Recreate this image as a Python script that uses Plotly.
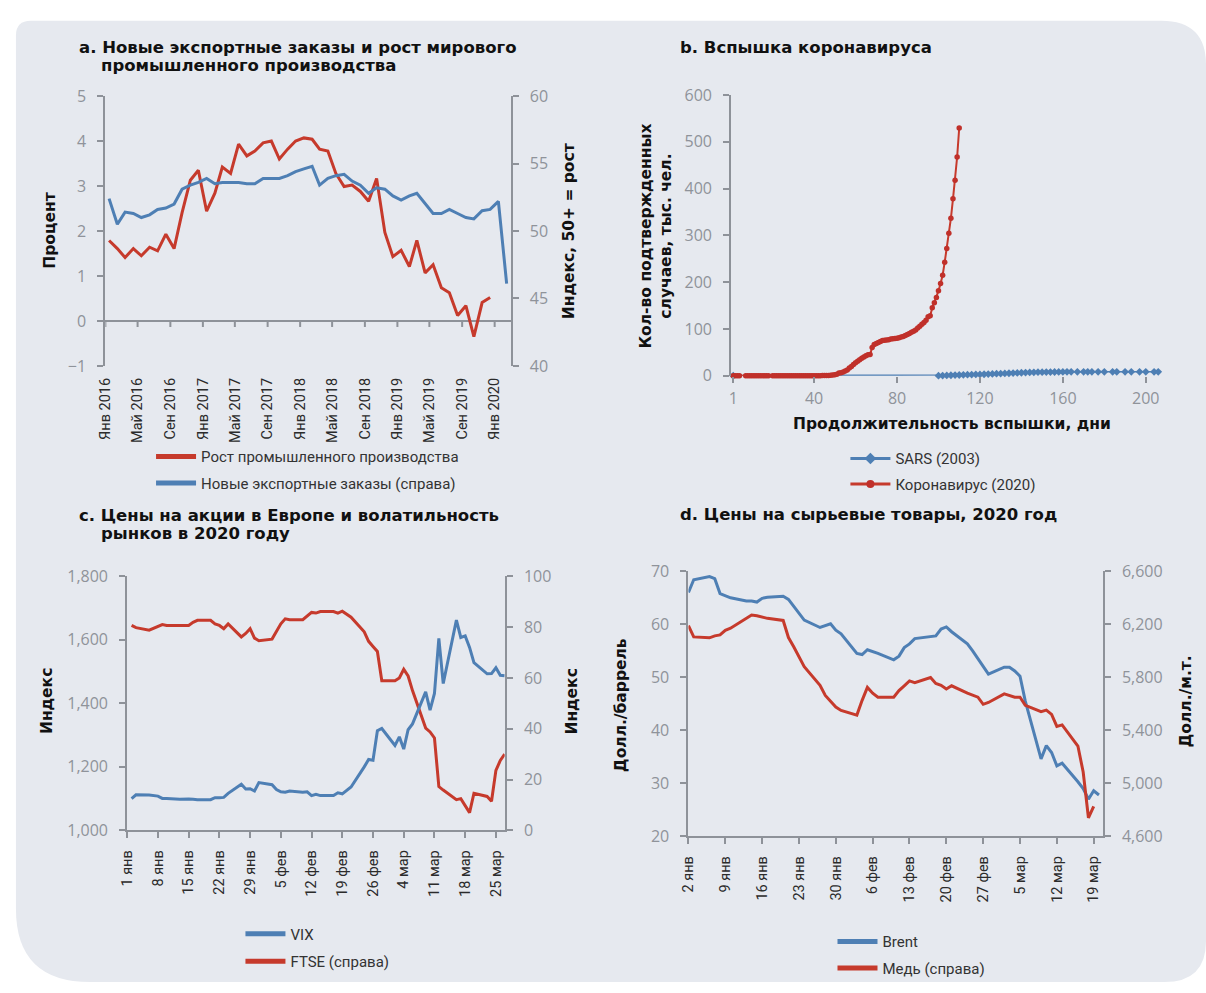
import plotly.graph_objects as go

W, H = 1206, 993


def X(px):
    return px / W


def Y(py):
    return 1 - py / H


RED = "#c63a2c"
BLUE = "#4e7fb4"
AXIS = "#8e9299"
TICK_GRAY = "#8f939a"
DARK = "#2b2b2b"
BG = "#e6e9ef"
TITLE_FONT = "DejaVu Sans"
BODY_FONT = "Roboto"
TICK_FONT = "Open Sans"

# ---------------- a. export orders vs industrial production ----------------
ip_growth = [1.79, 1.61, 1.41, 1.61, 1.45, 1.64, 1.56, 1.93, 1.61, 2.41, 3.13, 3.35,
             2.44, 2.84, 3.42, 3.28, 3.93, 3.67, 3.78, 3.96, 4.00, 3.60, 3.82, 4.00,
             4.07, 4.04, 3.82, 3.78, 3.28, 2.99, 3.02, 2.88, 2.66, 3.17, 1.97, 1.43,
             1.57, 1.21, 1.79, 1.07, 1.25, 0.74, 0.63, 0.12, 0.34, -0.35, 0.41, 0.52]
export_orders = [52.4, 50.5, 51.4, 51.3, 51.0, 51.2, 51.6, 51.7, 52.0, 53.1,
                 53.4, 53.6, 53.9, 53.5, 53.6, 53.6, 53.6, 53.5, 53.5, 53.9,
                 53.9, 53.9, 54.1, 54.4, 54.6, 54.8, 53.4, 53.9, 54.1, 54.2,
                 53.7, 53.4, 52.8, 53.2, 53.1, 52.6, 52.3, 52.6, 52.8, 52.0,
                 51.3, 51.3, 51.6, 51.3, 51.0, 50.9, 51.5, 51.6, 52.2, 46.1]
ip_dates = [f"{2016 + i // 12}-{i % 12 + 1:02d}-15" for i in range(len(ip_growth))]
orders_dates = [f"{2016 + i // 12}-{i % 12 + 1:02d}-15" for i in range(len(export_orders))]
a_tickvals = ["2016-01-01", "2016-05-01", "2016-09-01", "2017-01-01", "2017-05-01",
              "2017-09-01", "2018-01-01", "2018-05-01", "2018-09-01", "2019-01-01",
              "2019-05-01", "2019-09-01", "2020-01-01"]
a_ticktext = ["Янв 2016", "Май 2016", "Сен 2016", "Янв 2017", "Май 2017", "Сен 2017",
              "Янв 2018", "Май 2018", "Сен 2018", "Янв 2019", "Май 2019", "Сен 2019",
              "Янв 2020"]

# ---------------- b. outbreak comparison (thousands of cases) ----------------
sars_days = [1, 100, 102, 104, 106, 108, 110, 112, 114, 116, 118, 120, 122, 124, 126,
             128, 130, 132, 134, 136, 138, 140, 142, 144, 146, 148, 150, 152, 154, 156,
             158, 160, 162, 164, 167, 170, 172, 174, 177, 180, 184, 186, 190, 193, 197,
             200, 204, 206]
sars_cases = [0.0, 0.17, 0.35, 0.6, 1.0, 1.3, 1.6, 1.9, 2.2, 2.4, 2.7, 2.9, 3.2, 3.5, 3.9,
              4.3, 4.6, 4.9, 5.3, 5.7, 6.0, 6.4, 6.7, 7.0, 7.3, 7.5, 7.7, 7.8, 7.9, 8.0,
              8.1, 8.2, 8.3, 8.4, 8.4, 8.4, 8.4, 8.4, 8.4, 8.4, 8.4, 8.4, 8.4, 8.4, 8.4,
              8.4, 8.4, 8.4]
covid_days = list(range(1, 5)) + list(range(7, 19)) + list(range(20, 111))
covid_cases = [0.0, 0.0, 0.0, 0.0,
               0.01, 0.01, 0.01, 0.02, 0.02, 0.02, 0.02, 0.03, 0.03, 0.03, 0.03, 0.03,
               0.03, 0.03, 0.03, 0.03, 0.03, 0.04, 0.04, 0.04, 0.04, 0.04, 0.04, 0.04,
               0.04, 0.04, 0.04, 0.04, 0.04, 0.04, 0.04, 0.04, 0.04, 0.06, 0.12, 0.20,
               0.29, 0.44,
               0.56, 0.65, 0.94, 1.43, 2.12, 2.93, 5.58, 6.17, 8.24, 9.93,
               12.04, 16.79, 19.88, 23.89, 27.64, 30.8, 34.39, 37.12, 40.15, 42.76,
               44.8, 45.2, 60.37, 66.89, 69.03, 71.22, 73.26, 75.14, 75.64, 76.2,
               76.82, 78.57, 78.97, 79.55, 80.4, 81.38, 82.74, 84.12, 86.01, 88.37,
               90.31, 92.84, 95.12, 97.89, 101.8, 105.8, 109.8, 113.6, 118.6, 125.9,
               128.3, 145.2, 156.1, 167.4, 181.5, 197.1, 214.9, 242.7, 272.2, 304.5,
               336.9, 378.2, 418.0, 467.7, 529.6]
b_tickvals = [1, 40, 80, 120, 160, 200]

# ---------------- c. European equities and volatility, 2020 ----------------
c_dates = ["2020-01-02", "2020-01-03", "2020-01-06", "2020-01-07", "2020-01-08",
           "2020-01-09", "2020-01-10", "2020-01-13", "2020-01-14", "2020-01-15",
           "2020-01-16", "2020-01-17", "2020-01-20", "2020-01-21", "2020-01-22",
           "2020-01-23", "2020-01-24", "2020-01-27", "2020-01-28", "2020-01-29",
           "2020-01-30", "2020-01-31", "2020-02-03", "2020-02-04", "2020-02-05",
           "2020-02-06", "2020-02-07", "2020-02-10", "2020-02-11", "2020-02-12",
           "2020-02-13", "2020-02-14", "2020-02-17", "2020-02-18", "2020-02-19",
           "2020-02-20", "2020-02-21", "2020-02-24", "2020-02-25", "2020-02-26",
           "2020-02-27", "2020-02-28", "2020-03-02", "2020-03-03", "2020-03-04",
           "2020-03-05", "2020-03-06", "2020-03-09", "2020-03-10", "2020-03-11",
           "2020-03-12", "2020-03-13", "2020-03-16", "2020-03-17", "2020-03-18",
           "2020-03-19", "2020-03-20", "2020-03-23", "2020-03-24", "2020-03-25",
           "2020-03-26", "2020-03-27"]
vix = [12.5, 14.0, 13.9, 13.8, 13.5, 12.6, 12.6, 12.3, 12.4, 12.4, 12.3, 12.1, 12.1,
       12.9, 12.9, 13.0, 14.6, 18.2, 16.3, 16.4, 15.5, 18.8,
       18.0, 16.1, 15.2, 15.0, 15.5, 15.0, 15.2, 13.7, 14.2, 13.7, 13.7, 14.8, 14.4,
       15.6, 17.1, 25.0, 27.9, 27.6, 39.2, 40.1,
       33.4, 36.8, 32.0, 39.6, 41.9, 54.5, 47.3, 53.9, 75.5, 57.8, 82.7, 75.9, 76.5,
       72.0, 66.0, 61.6, 61.7, 64.0, 61.0, 60.8]
ftse = [1645, 1638, 1630, 1636, 1640, 1648, 1645, 1645, 1643, 1645, 1655, 1661, 1661,
        1650, 1645, 1635, 1650, 1609, 1620, 1635, 1605, 1597,
        1602, 1625, 1650, 1666, 1663, 1663, 1675, 1686, 1684, 1689, 1689, 1684, 1690,
        1680, 1671, 1625, 1595, 1579, 1563, 1471,
        1471, 1480, 1507, 1486, 1440, 1322, 1310, 1291, 1138, 1127, 1097, 1100, 1076,
        1056, 1117, 1107, 1092, 1189, 1220, 1240]
c_tickvals = ["2020-01-01", "2020-01-08", "2020-01-15", "2020-01-22", "2020-01-29",
              "2020-02-05", "2020-02-12", "2020-02-19", "2020-02-26", "2020-03-04",
              "2020-03-11", "2020-03-18", "2020-03-25"]
c_ticktext = ["1 янв", "8 янв", "15 янв", "22 янв", "29 янв", "5 фев", "12 фев",
              "19 фев", "26 фев", "4 мар", "11 мар", "18 мар", "25 мар"]

# ---------------- d. commodity prices, 2020 ----------------
brent_dates = c_dates[:57]
brent = [66.0, 68.4, 69.0, 68.6, 65.8, 65.4, 65.0, 64.4, 64.4, 64.2, 64.9, 65.1, 65.3,
         64.7, 63.4, 62.3, 60.8, 59.4, 59.8, 60.1, 58.9, 58.2,
         54.5, 54.3, 55.2, 54.9, 54.5, 53.3, 54.0, 55.6, 56.3, 57.3, 57.6, 57.8, 59.1,
         59.5, 58.6, 56.3, 55.0, 53.6, 52.2, 50.6,
         51.9, 51.9, 51.2, 50.2, 45.5, 34.6, 37.1, 35.8, 33.3, 33.8, 30.3, 29.0, 27.0,
         28.6, 27.8]
copper_dates = c_dates[:56]
copper = [6190, 6105, 6098, 6113, 6120, 6155, 6170, 6250, 6270, 6265, 6255, 6245, 6229,
          6100, 6030, 5958, 5880, 5740, 5663, 5620, 5576, 5550,
          5515, 5626, 5724, 5680, 5650, 5650, 5700, 5736, 5773, 5760, 5798, 5754, 5740,
          5712, 5736, 5680, 5665, 5650, 5596, 5610,
          5675, 5660, 5650, 5650, 5589, 5540, 5552, 5520, 5429, 5441, 5281, 5085, 4740,
          4826]
d_tickvals = ["2020-01-02", "2020-01-09", "2020-01-16", "2020-01-23", "2020-01-30",
              "2020-02-06", "2020-02-13", "2020-02-20", "2020-02-27", "2020-03-05",
              "2020-03-12", "2020-03-19"]
d_ticktext = ["2 янв", "9 янв", "16 янв", "23 янв", "30 янв", "6 фев", "13 фев",
              "20 фев", "27 фев", "5 мар", "12 мар", "19 мар"]

fig = go.Figure()

line_w = 3


def series(x, y, xa, ya, color, **kw):
    fig.add_trace(go.Scatter(x=x, y=y, mode=kw.pop("mode", "lines"), xaxis=xa, yaxis=ya,
                             line=dict(color=color, width=kw.pop("width", line_w)),
                             showlegend=False, hoverinfo="x+y", **kw))


def legend_entry(name, color, xa, ya, legend, group, marker=None):
    fig.add_trace(go.Scatter(x=[None], y=[None], name=name, xaxis=xa, yaxis=ya,
                             mode="lines+markers" if marker else "lines",
                             line=dict(color=color, width=5 if not marker else 3),
                             marker=marker, legend=legend, legendgroup=group))


# panel a
series(ip_dates, ip_growth, "x", "y", RED)
series(orders_dates, export_orders, "x", "y2", BLUE)
legend_entry("Рост промышленного производства", RED, "x", "y", "legend", "a1")
legend_entry("Новые экспортные заказы (справа)", BLUE, "x", "y", "legend", "a2")

# panel b
series(sars_days, sars_cases, "x2", "y3", BLUE, mode="lines+markers", width=1.6,
       marker=dict(symbol="diamond", size=6, color=BLUE), cliponaxis=False)
series(covid_days, covid_cases, "x2", "y3", RED, mode="lines+markers", width=2,
       marker=dict(symbol="circle", size=5.5, color="#c0302a"), cliponaxis=False)
legend_entry("SARS (2003)", BLUE, "x2", "y3", "legend2", "b1",
             marker=dict(symbol="diamond", size=9, color=BLUE))
legend_entry("Коронавирус (2020)", RED, "x2", "y3", "legend2", "b2",
             marker=dict(symbol="circle", size=8, color="#c0302a"))

# panel c
series(c_dates, ftse, "x3", "y4", RED)
series(c_dates, vix, "x3", "y5", BLUE)
legend_entry("VIX", BLUE, "x3", "y4", "legend3", "c1")
legend_entry("FTSE (справа)", RED, "x3", "y4", "legend3", "c2")

# panel d
series(brent_dates, brent, "x4", "y6", BLUE)
series(copper_dates, copper, "x4", "y7", RED)
legend_entry("Brent", BLUE, "x4", "y6", "legend4", "d1")
legend_entry("Медь (справа)", RED, "x4", "y6", "legend4", "d2")

gray_ticks = dict(family=TICK_FONT, size=16, color=TICK_GRAY)
dark_ticks = dict(family=BODY_FONT, size=14.5, color=DARK)


def yax(domain, rng, dtick, anchor, side="left", overlaying=None, fmt=None, zero=False):
    d = dict(domain=domain, range=rng, dtick=dtick, tick0=rng[0], anchor=anchor, side=side,
             showline=True, linecolor=AXIS, linewidth=2, ticks="outside", ticklen=6,
             tickwidth=2, tickcolor=AXIS, showgrid=False, zeroline=zero,
             zerolinecolor=AXIS, zerolinewidth=2, tickfont=gray_ticks,
             ticklabelstandoff=8, fixedrange=True)
    if overlaying:
        d["overlaying"] = overlaying
    if fmt:
        d["tickformat"] = fmt
    return d


layout = dict(
    width=W, height=H, margin=dict(l=0, r=0, t=0, b=0),
    paper_bgcolor="white", plot_bgcolor="rgba(0,0,0,0)",
    font=dict(family=BODY_FONT, color=DARK),
    xaxis=dict(domain=[X(98), X(506)], range=["2016-01-01", "2020-03-01"], anchor="y",
               tickmode="array", tickvals=a_tickvals, ticktext=a_ticktext, tickangle=-90,
               ticks="", showline=False, showgrid=False, zeroline=False,
               tickfont=dark_ticks, ticklabelstandoff=8),
    yaxis=yax([Y(363), Y(87)], [-1, 5], 1, "x", zero=True),
    yaxis2=yax([Y(363), Y(87)], [40, 60], 5, "x", side="right", overlaying="y"),
    xaxis2=dict(domain=[X(728), X(1160)], range=[0, 207], anchor="y3",
                tickmode="array", tickvals=b_tickvals, ticks="outside", ticklen=6,
                tickwidth=2, tickcolor=AXIS, showline=False, showgrid=False,
                zeroline=False, tickfont=gray_ticks, ticklabelstandoff=2),
    yaxis3=yax([Y(373), Y(86)], [0, 600], 100, "x2"),
    xaxis3=dict(domain=[X(120), X(500)], range=["2020-01-01", "2020-03-27"], anchor="y4",
                tickmode="array", tickvals=c_tickvals, ticktext=c_ticktext, tickangle=-90,
                ticks="outside", ticklen=6, tickwidth=2, tickcolor=AXIS,
                showline=True, linecolor=AXIS, linewidth=2, showgrid=False,
                zeroline=False, tickfont=dark_ticks, ticklabelstandoff=6),
    yaxis4=yax([Y(838), Y(578)], [1000, 1800], 200, "x3", fmt=","),
    yaxis5=yax([Y(838), Y(578)], [0, 100], 20, "x3", side="right", overlaying="y4"),
    xaxis4=dict(domain=[X(685), X(1102)], range=["2020-01-02", "2020-03-20 17:00"], anchor="y6",
                tickmode="array", tickvals=d_tickvals, ticktext=d_ticktext, tickangle=-90,
                ticks="outside", ticklen=6, tickwidth=2, tickcolor=AXIS,
                showline=True, linecolor=AXIS, linewidth=2, showgrid=False,
                zeroline=False, tickfont=dark_ticks, ticklabelstandoff=6),
    yaxis6=yax([Y(844), Y(573)], [20, 70], 10, "x4"),
    yaxis7=yax([Y(844), Y(573)], [4600, 6600], 400, "x4", side="right", overlaying="y6", fmt=","),
)

legend_font = dict(family=BODY_FONT, size=15, color="#333333")


def leg(x, y, gap):
    return dict(x=X(x), y=Y(y), xanchor="left", yanchor="top", bgcolor="rgba(0,0,0,0)",
                font=legend_font, tracegroupgap=gap, itemwidth=40, traceorder="grouped")


layout["legend"] = leg(144, 439, 4)
layout["legend2"] = leg(843, 441, 3)
layout["legend3"] = leg(234, 927, 5)
layout["legend4"] = leg(830, 935, 4)
layout["showlegend"] = True

fig.update_layout(**layout)

# rounded background card behind all four panels
x0, y0, x1, y1 = 8, 10, 1206, 993
r_tl, r_tr, r_br, r_bl = 15, 45, 42, 75
card = (f"M {X(x0)},{Y(y0 + r_tl)} Q {X(x0)},{Y(y0)} {X(x0 + r_tl)},{Y(y0)} "
        f"L {X(x1 - r_tr)},{Y(y0)} Q {X(x1)},{Y(y0)} {X(x1)},{Y(y0 + r_tr)} "
        f"L {X(x1)},{Y(y1 - r_br)} Q {X(x1)},{Y(y1)} {X(x1 - r_br)},{Y(y1)} "
        f"L {X(x0 + r_bl)},{Y(y1)} Q {X(x0)},{Y(y1)} {X(x0)},{Y(y1 - r_bl)} Z")
fig.add_shape(type="path", path=card, xref="paper", yref="paper", layer="below",
              fillcolor=BG, line=dict(width=0))

# tick marks hanging from the zero line in panel a
for tv in a_tickvals:
    fig.add_shape(type="line", xref="x", yref="y", x0=tv, x1=tv, ysizemode="pixel",
                  yanchor=0, y0=0, y1=-6, line=dict(color=AXIS, width=2))

title_font = dict(family=TITLE_FONT, size=16.5, color="#111111", weight=700)
axis_title_font = dict(family=TITLE_FONT, size=15.5, color="#111111", weight=700)


def text(x, y, s, font, angle=0, xanchor="left", yanchor="middle", align="left"):
    fig.add_annotation(x=X(x), y=Y(y), xref="paper", yref="paper", text=s, showarrow=False,
                       font=font, textangle=angle, xanchor=xanchor, yanchor=yanchor,
                       align=align, borderpad=0)


text(70, 37, "a. Новые экспортные заказы и рост мирового", title_font)
text(93, 55.5, "промышленного производства", title_font)
text(675, 37, "b. Вспышка коронавируса", title_font)
text(70, 516, "c. Цены на акции в Европе и волатильность", title_font)
text(93, 534.5, "рынков в 2020 году", title_font)
text(675, 515, "d. Цены на сырьевые товары, 2020 год", title_font)

text(42, 225, "Процент", axis_title_font, angle=-90, xanchor="center")
text(565, 225, "Индекс, 50+ = рост", axis_title_font, angle=-90, xanchor="center")
text(652, 230, "Кол-во подтвержденных<br>случаев, тыс. чел.", axis_title_font, angle=-90,
     xanchor="center", align="center")
text(950, 422, "Продолжительность вспышки, дни", axis_title_font, xanchor="center")
text(40, 706, "Индекс", axis_title_font, angle=-90, xanchor="center")
text(568, 706, "Индекс", axis_title_font, angle=-90, xanchor="center")
text(617, 710, "Долл./баррель", axis_title_font, angle=-90, xanchor="center")
text(1186, 706, "Долл./м.т.", axis_title_font, angle=-90, xanchor="center")

fig.write_html("out.html")
